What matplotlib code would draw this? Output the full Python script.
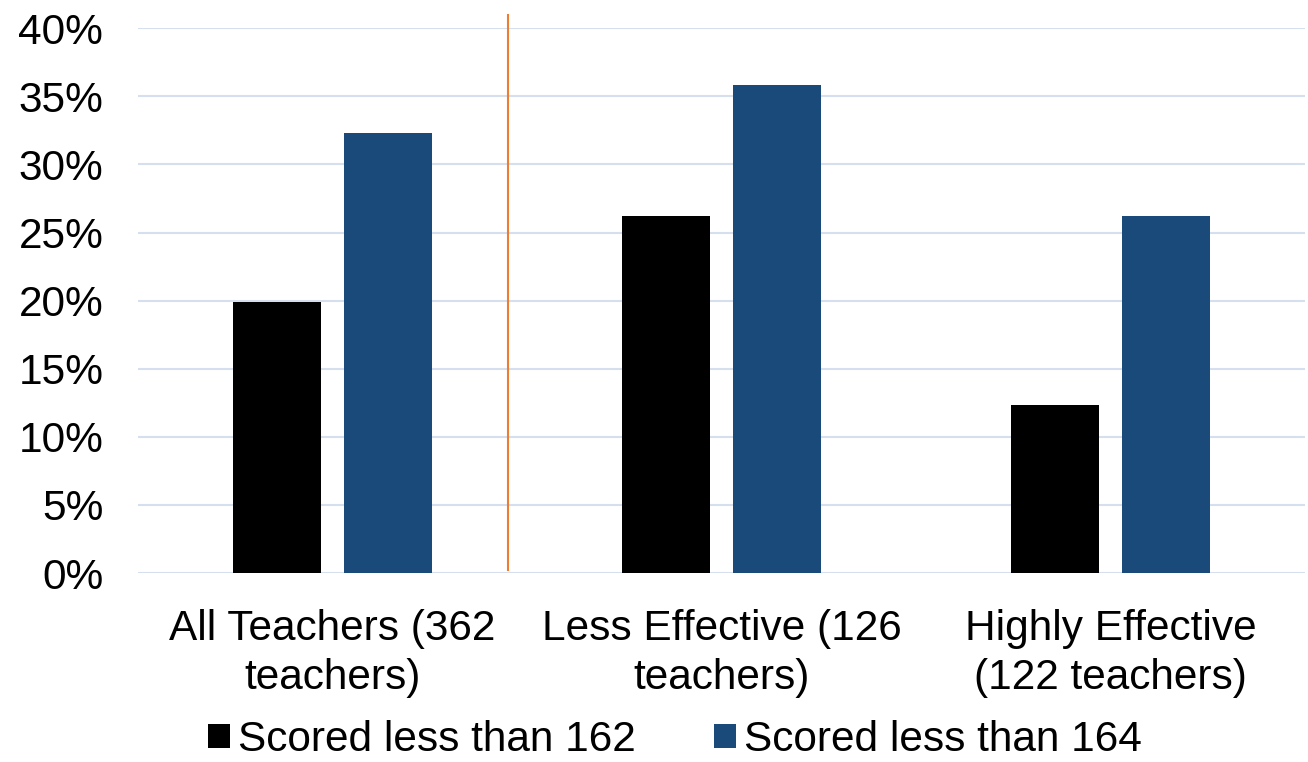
import matplotlib
matplotlib.use("Agg")
import matplotlib.pyplot as plt
from matplotlib.patches import Patch
from matplotlib.lines import Line2D
import numpy as np

plt.rcParams['font.family'] = ['Liberation Sans', 'DejaVu Sans']

categories = ["All Teachers (362\nteachers)", "Less Effective (126\nteachers)", "Highly Effective\n(122 teachers)"]
series_names = ["Scored less than 162", "Scored less than 164"]
scored_162 = [19.9, 26.2, 12.3]
scored_164 = [32.3, 35.8, 26.2]
yticks = [0, 5, 10, 15, 20, 25, 30, 35, 40]
ytick_labels = [f"{v}%" for v in yticks]

c_black = "#000000"
c_blue = "#1A4A7A"
c_grid = "#D6DFEE"
c_orange = "#ED7D31"

FS = 30.5

fig = plt.figure(figsize=(13.08, 7.62), dpi=100)
ax = fig.add_axes([0.1055, 0.248, 0.8925, 0.715])

x = np.arange(len(categories))
w = 0.226
ax.bar(x - 0.1425, scored_162, width=w, color=c_black, zorder=3)
ax.bar(x + 0.1425, scored_164, width=w, color=c_blue, zorder=3)

ax.set_xlim(-0.5, 2.5)
ax.set_ylim(0, 40)
ax.set_yticks(yticks)
ax.set_yticklabels(ytick_labels, fontsize=FS)
ax.set_xticks(x)
ax.set_xticklabels(categories, fontsize=FS, linespacing=1.3)
ax.tick_params(axis='both', length=0)
ax.tick_params(axis='y', pad=25)
ax.tick_params(axis='x', pad=26)
for s in ax.spines.values():
    s.set_visible(False)
ax.yaxis.grid(True, color=c_grid, linewidth=1.5, zorder=0)
ax.set_axisbelow(True)

# separator line
ax.add_line(Line2D([0.45, 0.45], [0.2, 41.0], color=c_orange, linewidth=1.5, clip_on=False, zorder=4))

handles = [Patch(facecolor=c_black, label=series_names[0]),
           Patch(facecolor=c_blue, label=series_names[1])]
fig.legend(handles=handles, loc='center', bbox_to_anchor=(0.516, 0.029), ncol=2, frameon=False,
           fontsize=FS, handlelength=0.52, handleheight=0.52, handletextpad=0.19, columnspacing=1.85,
           borderpad=0.0)

fig.savefig("out.png", dpi=100, facecolor="white")
